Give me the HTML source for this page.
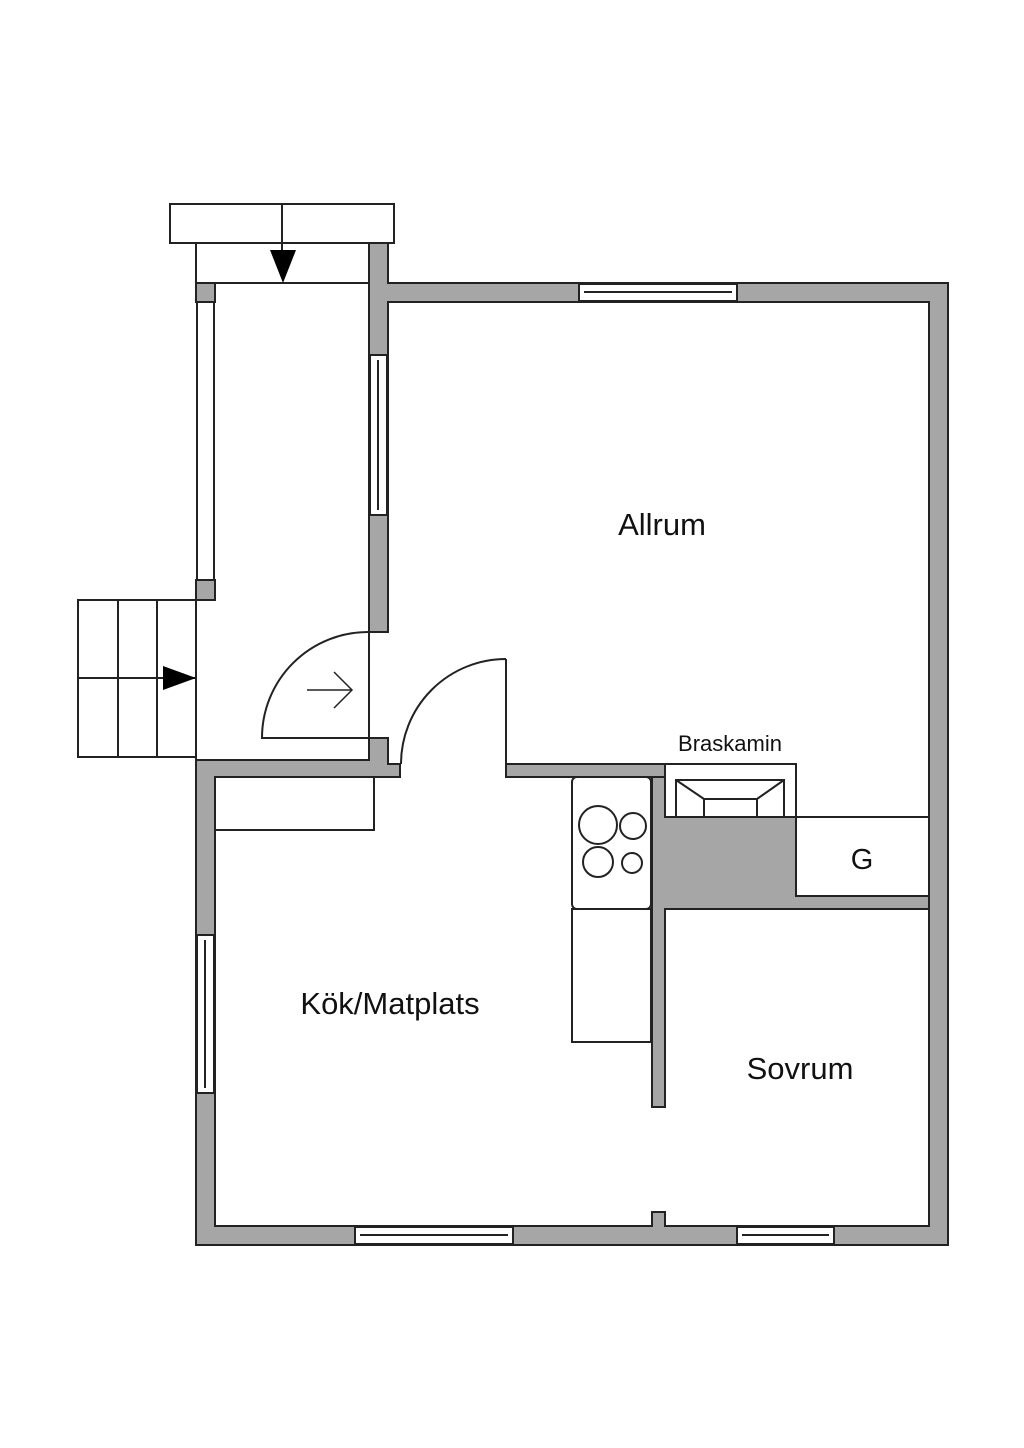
<!DOCTYPE html>
<html><head><meta charset="utf-8"><style>html,body{margin:0;padding:0;background:#fff}svg{display:block}</style></head><body>
<svg width="1024" height="1448" viewBox="0 0 1024 1448" xmlns="http://www.w3.org/2000/svg" font-family="Liberation Sans, sans-serif">
<g fill="#a6a6a6" stroke="#222" stroke-width="2">
<!-- outer main walls -->
<path d="M369 243 H388 V283 H948 V1245 H196 V760 H369 V738 H388 V764 H400 V777 H215 V1226 H652 V1212 H665 V1226 H929 V302 H388 V632 H369 Z"/>
<path d="M506 764 H665 V777 H506 Z"/>
<path d="M652 777 H665 V817 H796 V896 H929 V909 H665 V1107 H652 Z"/>
<rect x="196" y="283" width="19" height="19"/>
<rect x="196" y="580" width="19" height="20"/>
</g>
<g fill="#fff" stroke="#222" stroke-width="2">
<!-- windows -->
<rect x="579" y="284" width="158" height="17"/><line x1="584" y1="292" x2="732" y2="292"/>
<rect x="370" y="355" width="17" height="160"/><line x1="378" y1="360" x2="378" y2="510"/>
<rect x="197" y="302" width="17" height="278"/>
<rect x="197" y="935" width="17" height="158"/><line x1="205" y1="940" x2="205" y2="1088"/>
<rect x="355" y="1227" width="158" height="17"/><line x1="360" y1="1235" x2="508" y2="1235"/>
<rect x="737" y="1227" width="97" height="17"/><line x1="742" y1="1235" x2="829" y2="1235"/>
<!-- porch -->
<rect x="196" y="243" width="173" height="40"/>
<rect x="170" y="204" width="224" height="39"/>
<line x1="282" y1="204" x2="282" y2="262"/>
<!-- stairs -->
<rect x="78" y="600" width="118" height="157"/>
<line x1="118" y1="600" x2="118" y2="757"/><line x1="157" y1="600" x2="157" y2="757"/><line x1="78" y1="678" x2="196" y2="678"/>
<line x1="196" y1="600" x2="196" y2="760"/>
<!-- kitchen items -->
<rect x="215" y="777" width="159" height="53"/>
<rect x="572" y="777" width="79" height="132" rx="5"/>
<rect x="572" y="909" width="79" height="133"/>
<circle cx="598" cy="825" r="19"/><circle cx="633" cy="826" r="13"/>
<circle cx="598" cy="862" r="15"/><circle cx="632" cy="863" r="10"/>
<!-- fireplace -->
<rect x="665" y="764" width="131" height="53"/>
<path d="M676 780 H784 V817 H676 Z M676 780 L704 799 H757 L784 780 M704 799 V817 M757 799 V817"/>
<rect x="796" y="817" width="133" height="79"/>
</g>
<g fill="none" stroke="#222" stroke-width="2">
<path d="M369 632 V738 H262 A106 106 0 0 1 369 632"/>
<path d="M506 659 V764 M506 659 A105 105 0 0 0 401 764"/>
<path d="M307 690 H352 M334 672 L352 690 L334 708" stroke-width="1.5"/>
</g>
<polygon points="270,250 296,250 283,283" fill="#000"/>
<polygon points="163,666 163,690 196,678" fill="#000"/>
<g fill="#111" text-anchor="middle">
<text x="662" y="535" font-size="31">Allrum</text>
<text x="390" y="1014" font-size="31">Kök/Matplats</text>
<text x="800" y="1079" font-size="31">Sovrum</text>
<text x="730" y="751" font-size="22">Braskamin</text>
<text x="862" y="869" font-size="29">G</text>
</g>
</svg>
</body></html>
